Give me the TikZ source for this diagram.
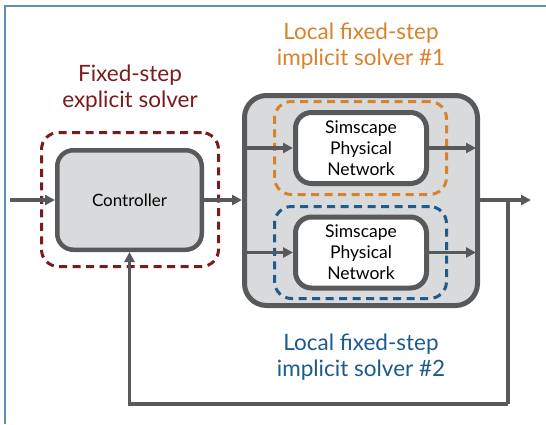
\documentclass[tikz,border=0pt]{standalone}
\usepackage{fontspec}
\setmainfont{Lato}
\usetikzlibrary{arrows.meta, positioning}
\definecolor{LineGrey}{HTML}{58595B}
\definecolor{BlockGrey}{HTML}{D9DADB}
\definecolor{ExplicitRed}{HTML}{7A1C1E}
\definecolor{ImplicitOrange}{HTML}{D8822C}
\definecolor{ImplicitBlue}{HTML}{1D5A8E}
\definecolor{FrameBlue}{HTML}{5F8DB3}

\begin{document}
\begin{tikzpicture}[x=1pt, y=-1pt,
        block/.style={rectangle, draw=LineGrey, line width=4.5pt, fill=BlockGrey, rounded corners=16pt, align=center},
        netbox/.style={block, line width=5pt, fill=white, minimum width=131pt, minimum height=71pt, inner sep=0pt, font=\fontsize{17.5}{21}\selectfont},
        solverbox/.style={rectangle, line width=3pt, dash pattern=on 8pt off 5.5pt, rounded corners=17pt},
        solverlabel/.style={align=center, font=\fontsize{22.5}{26}\selectfont},
        arrow/.style={-{Triangle[length=10pt, width=10pt]}, line width=3.5pt, LineGrey},
        wire/.style={line width=4pt, LineGrey}
    ]
        \useasboundingbox (0,0) rectangle (546,424);

        % Frame
        \draw[FrameBlue, line width=2pt] (5,424) -- (5,6) -- (546,6);

        % Explicit part
        \node[solverbox, draw=ExplicitRed, minimum width=177pt, minimum height=134pt] (explicit) at (130,199.5) {};
        \node[block, minimum width=144.5pt, minimum height=99.5pt, font=\fontsize{17}{20}\selectfont] (ctrl) at (129.5,200) {Controller};
        \node[solverlabel, text=ExplicitRed] (explabel) at (130,88) {Fixed-step\\explicit solver};

        % Implicit part
        \node[block, line width=5pt, rounded corners=22pt, minimum width=233pt, minimum height=210pt] (solver) at (361,200.5) {};
        \node[solverbox, draw=ImplicitOrange, minimum width=172pt, minimum height=93pt] (local1) at (360.5,148) {};
        \node[solverbox, draw=ImplicitBlue, minimum width=172pt, minimum height=92pt] (local2) at (360.5,252.5) {};
        \node[netbox] (net1) at (361,148) {Simscape\\Physical\\Network};
        \node[netbox] (net2) at (361,252.5) {Simscape\\Physical\\Network};
        \node[solverlabel, text=ImplicitOrange] (label1) at (361,46) {Local fixed-step\\implicit solver \#1};
        \node[solverlabel, text=ImplicitBlue] (label2) at (361,357) {Local fixed-step\\implicit solver \#2};

        % Signals
        \coordinate (in) at (10,200);
        \coordinate (out) at (531,200);
        \coordinate (branch) at (508,200);
        \coordinate (fbcorner) at (508,404);
        \draw[arrow] (in) -- (ctrl.west);
        \draw[arrow] (ctrl.east) -- (solver.west |- ctrl.east);
        \draw[arrow, shorten <=4pt] (solver.west |- net1) -- (net1.west);
        \draw[arrow, shorten >=4pt] (net1.east) -- (solver.east |- net1);
        \draw[arrow, shorten <=4pt] (solver.west |- net2) -- (net2.west);
        \draw[arrow, shorten >=4pt] (net2.east) -- (solver.east |- net2);
        \draw[arrow] (solver.east |- out) -- (out);
        \draw[wire] (branch) -- (fbcorner);
        \draw[arrow] (fbcorner) -| (ctrl.south);
    \end{tikzpicture}
\end{document}
